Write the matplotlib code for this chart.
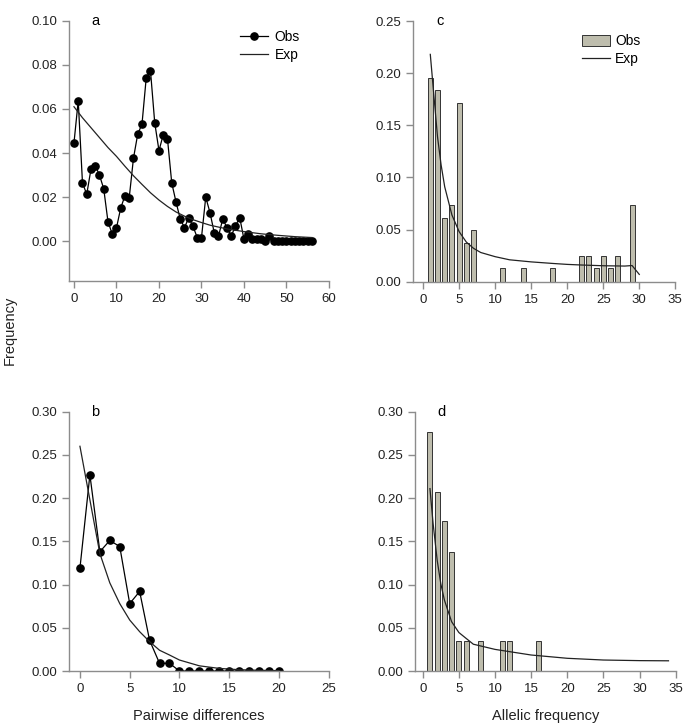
import matplotlib
matplotlib.use("Agg")
import matplotlib.pyplot as plt
from matplotlib.lines import Line2D
from matplotlib.patches import Patch

plt.rcParams['font.family'] = ['Liberation Sans', 'DejaVu Sans']

# ---- Panel a: pairwise differences (mismatch) ----
a_x = list(range(57))
a_obs = [0.0446, 0.0637, 0.0265, 0.0213, 0.0327, 0.0343, 0.0300, 0.0238, 0.0089, 0.0033,
         0.0061, 0.0151, 0.0207, 0.0198, 0.0377, 0.0486, 0.0531, 0.0741, 0.0773, 0.0537,
         0.0411, 0.0483, 0.0464, 0.0265, 0.0179, 0.0101, 0.0062, 0.0107, 0.0068, 0.0017,
         0.0017, 0.0200, 0.0130, 0.0039, 0.0023, 0.0101, 0.0062, 0.0023, 0.0071, 0.0107,
         0.0009, 0.0035, 0.0012, 0.0012, 0.0012, 0.0002, 0.0026, 0.0, 0.0, 0.0,
         0.0, 0.0, 0.0, 0.0, 0.0, 0.0, 0.0]
a_exp_x = [0, 2, 4, 6, 8, 10, 12, 14, 16, 18, 20, 22, 24, 26, 28, 30, 32, 36, 40, 44, 48, 52, 56]
a_exp = [0.061, 0.056, 0.0515, 0.047, 0.0425, 0.0385, 0.034, 0.0297, 0.0258, 0.022, 0.0187,
         0.0158, 0.0133, 0.0114, 0.0098, 0.0085, 0.0073, 0.0056, 0.0044, 0.0034, 0.0027,
         0.0021, 0.0017]

# ---- Panel b ----
b_x = list(range(21))
b_obs = [0.119, 0.227, 0.138, 0.151, 0.144, 0.078, 0.092, 0.0355, 0.0089, 0.0089,
         0, 0, 0, 0, 0, 0, 0, 0, 0, 0, 0]
b_exp_x = [0, 1, 2, 3, 4, 5, 6, 7, 8, 9, 10, 12, 14, 16, 18, 20]
b_exp = [0.26, 0.198, 0.136, 0.102, 0.078, 0.059, 0.0455, 0.034, 0.024, 0.0185, 0.0127,
         0.006, 0.003, 0.0015, 0.0008, 0.0004]

# ---- Panel c: allelic frequency spectrum ----
c_x = [1, 2, 3, 4, 5, 6, 7, 11, 14, 18, 22, 23, 24, 25, 26, 27, 29]
c_obs = [0.195, 0.1835, 0.0614, 0.0735, 0.171, 0.0368, 0.0496, 0.0128, 0.0128, 0.0128,
         0.0249, 0.0249, 0.0128, 0.0249, 0.0128, 0.0249, 0.0735]
c_exp_x = [1, 1.43, 2, 2.5, 3, 4, 5, 6, 7, 8, 10, 12, 15, 18, 20, 22, 25, 28, 29, 30]
c_exp = [0.218, 0.184, 0.139, 0.112, 0.091, 0.064, 0.048, 0.038, 0.032, 0.028, 0.024,
         0.021, 0.019, 0.0175, 0.0166, 0.016, 0.0153, 0.015, 0.0155, 0.007]

# ---- Panel d ----
d_x = [1, 2, 3, 4, 5, 6, 8, 11, 12, 16]
d_obs = [0.276, 0.207, 0.173, 0.138, 0.0345, 0.0345, 0.0345, 0.0345, 0.0345, 0.0345]
d_exp_x = [1, 1.43, 2, 2.5, 3, 4, 5, 7, 10, 15, 20, 25, 30, 34]
d_exp = [0.211, 0.171, 0.128, 0.101, 0.082, 0.057, 0.0445, 0.031, 0.025, 0.0185, 0.0147,
         0.0127, 0.012, 0.0118]

W, H = 685, 726
fig = plt.figure(figsize=(W / 100, H / 100), dpi=100)

SPINE = '#8c8c8c'
BAR = '#bebdad'
TXT = '#222222'


def style(ax, xlim, ylim, xt, yt):
    ax.set_xlim(*xlim)
    ax.set_ylim(*ylim)
    for s in ['top', 'right']:
        ax.spines[s].set_visible(False)
    for s in ['left', 'bottom']:
        ax.spines[s].set_color(SPINE)
        ax.spines[s].set_linewidth(1.0)
    ax.set_xticks(xt)
    ax.set_yticks(yt)
    ax.set_yticklabels([f'{v:.2f}' for v in yt])
    ax.set_xticklabels([f'{v:g}' for v in xt])
    ax.tick_params(direction='out', length=5, width=1.0, color=SPINE,
                   labelsize=9.5, labelcolor=TXT, pad=3.5)


def pos(l, t, r, b):
    return [l / W, 1 - b / H, (r - l) / W, (b - t) / H]


# a
axa = fig.add_axes(pos(69.3, 20.7, 329, 281))
axa.plot(a_x, a_obs, color='black', lw=0.9, marker='o', ms=5.2, mfc='black', mec='black')
axa.plot(a_exp_x, a_exp, color='#222222', lw=0.9)
style(axa, (-1.1, 60), (-0.018, 0.10), list(range(0, 61, 10)),
      [0.0, 0.02, 0.04, 0.06, 0.08, 0.10])
axa.text(0.10, 1.0, 'a', transform=axa.transAxes, fontsize=10.5, ha='center', va='center')
h1 = [Line2D([], [], color='black', lw=0.9, marker='o', ms=5.2),
      Line2D([], [], color='#222222', lw=0.9)]
axa.legend(h1, ['Obs', 'Exp'], loc='upper left', bbox_to_anchor=(0.635, 0.985),
           frameon=False, fontsize=10, handlelength=2.0, handletextpad=0.5,
           labelspacing=0.3, borderaxespad=0)

# b
axb = fig.add_axes(pos(69.3, 411.7, 328.7, 671))
axb.plot(b_x, b_obs, color='black', lw=0.9, marker='o', ms=5.2, mfc='black', mec='black')
axb.plot(b_exp_x, b_exp, color='#222222', lw=0.9)
style(axb, (-1.07, 25), (0, 0.30), list(range(0, 26, 5)),
      [0.0, 0.05, 0.10, 0.15, 0.20, 0.25, 0.30])
axb.text(0.10, 1.0, 'b', transform=axb.transAxes, fontsize=10.5, ha='center', va='center')
axb.set_xlabel('Pairwise differences', fontsize=10.5, color=TXT, labelpad=10)

# c
axc = fig.add_axes(pos(413, 21, 675.3, 281.7))
axc.bar(c_x, c_obs, width=0.7, color=BAR, edgecolor='#333333', linewidth=0.7)
axc.plot(c_exp_x, c_exp, color='#222222', lw=0.9)
style(axc, (-1.4, 35), (0, 0.25), list(range(0, 36, 5)),
      [0.0, 0.05, 0.10, 0.15, 0.20, 0.25])
axc.text(0.103, 1.0, 'c', transform=axc.transAxes, fontsize=10.5, ha='center', va='center')
h2 = [Patch(facecolor=BAR, edgecolor='#333333', linewidth=0.7),
      Line2D([], [], color='#222222', lw=0.9)]
axc.legend(h2, ['Obs', 'Exp'], loc='upper left', bbox_to_anchor=(0.625, 0.97),
           frameon=False, fontsize=10, handlelength=2.0, handleheight=0.9,
           handletextpad=0.35, labelspacing=0.25, borderaxespad=0)

# d
axd = fig.add_axes(pos(415, 411.7, 675.7, 671))
axd.bar(d_x, d_obs, width=0.7, color=BAR, edgecolor='#333333', linewidth=0.7)
axd.plot(d_exp_x, d_exp, color='#222222', lw=0.9)
style(axd, (-1.07, 35), (0, 0.30), list(range(0, 36, 5)),
      [0.0, 0.05, 0.10, 0.15, 0.20, 0.25, 0.30])
axd.text(0.10, 1.0, 'd', transform=axd.transAxes, fontsize=10.5, ha='center', va='center')
axd.set_xlabel('Allelic frequency', fontsize=10.5, color=TXT, labelpad=10)

fig.text(10 / W, 1 - 330 / H, 'Frequency', rotation=90, fontsize=10.5, color=TXT,
         ha='center', va='center')

fig.savefig('out.png', dpi=100)
